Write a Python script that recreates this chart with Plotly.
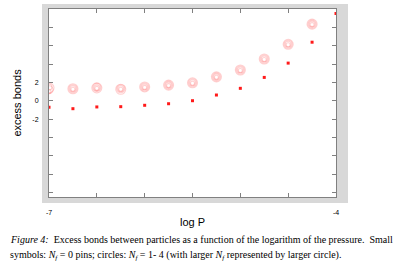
import plotly.graph_objects as go

log_p = [-7, -6.75, -6.5, -6.25, -6, -5.75, -5.5, -5.25, -5, -4.75, -4.5, -4.25, -4]
nf0 = [-0.72, -0.87, -0.68, -0.65, -0.5, -0.33, 0.0, 0.62, 1.35, 2.54, 4.1, 6.38, 9.5]
nf1 = [1.0, 1.25, 1.35, 1.25, 1.45, 1.65, 1.9, 2.55, 3.3, 4.5, 6.1, 8.3, 11.6]
nf2 = [1.5, 1.3, 1.4, 1.3, 1.5, 1.7, 1.95, 2.6, 3.35, 4.55, 6.15, 8.35, 11.7]
nf3 = [1.2, 1.3, 1.45, 1.3, 1.5, 1.7, 1.95, 2.6, 3.35, 4.55, 6.15, 8.35, 11.7]
nf4 = [1.4, 1.3, 1.4, 1.25, 1.5, 1.7, 1.95, 2.6, 3.35, 4.55, 6.15, 8.35, 11.8]
circle_sizes = [4, 6, 8, 10]

x_ticks = [-7, -4]
x_labels = ["-7", "-4"]
y_ticks = [-2, 0, 2]
y_labels = ["-2", "0", "2"]

fig = go.Figure()
for vals, sz in zip([nf1, nf2, nf3, nf4], circle_sizes):
    fig.add_trace(go.Scatter(
        x=log_p, y=vals, mode="markers",
        marker=dict(symbol="circle-open", size=sz, color="rgba(255,60,60,0.24)",
                    line=dict(width=1.1, color="rgba(255,60,60,0.24)")),
        showlegend=False))
fig.add_trace(go.Scatter(
    x=log_p, y=nf0, mode="markers",
    marker=dict(symbol="square", size=3, color="#ff1a1a", line=dict(width=0)),
    showlegend=False))

W, H = 407, 266
L, R, T, B = 49, 71, 9, 69
pw, ph = W - L - R, H - T - B

def px_x(x):
    return (x - L) / pw

def px_y(y):
    return (H - B - y) / ph

fig.add_shape(type="rect", xref="paper", yref="paper",
              x0=px_x(42), x1=px_x(348), y0=px_y(203), y1=px_y(4),
              fillcolor="#d8d8d8", line=dict(width=0), layer="below")
fig.add_shape(type="rect", xref="paper", yref="paper",
              x0=0, x1=1, y0=0, y1=1,
              fillcolor="white", line=dict(width=0), layer="below")

tick_col = "#808080"
fig.update_xaxes(range=[-7, -4], tickvals=x_ticks, ticktext=x_labels,
                 ticks="inside", ticklen=4, tickcolor=tick_col, mirror="ticks",
                 minor=dict(ticks="inside", ticklen=4, tickcolor=tick_col, tick0=-7, dtick=0.5,
                            showgrid=False),
                 showline=True, linecolor=tick_col, linewidth=1, showgrid=False,
                 zeroline=False, tickfont=dict(family="Liberation Sans", size=7, color="black"),
                 ticklabelstandoff=9,
                 title=dict(text="log P", font=dict(family="Liberation Sans", size=11, color="black"),
                            standoff=2))
fig.update_yaxes(range=[-10.5, 10], tickvals=y_ticks, ticktext=y_labels,
                 ticks="inside", ticklen=4, tickcolor=tick_col, mirror="ticks",
                 minor=dict(ticks="inside", ticklen=4, tickcolor=tick_col, tick0=0, dtick=2,
                            showgrid=False),
                 showline=True, linecolor=tick_col, linewidth=1, showgrid=False,
                 zeroline=False, tickfont=dict(family="Liberation Sans", size=7, color="black"),
                 ticklabelstandoff=8,
                 title=dict(text="excess bonds", font=dict(family="Liberation Sans", size=11, color="black"),
                            standoff=8))

cap_font = dict(family="Liberation Serif", size=10, color="black")
fig.add_annotation(xref="paper", yref="paper", x=px_x(8), y=px_y(239),
                   xanchor="left", yanchor="middle", showarrow=False, font=cap_font,
                   text="<i>Figure 4:</i>  Excess bonds between particles as a function of the logarithm of the pressure.  Small")
fig.add_annotation(xref="paper", yref="paper", x=px_x(8), y=px_y(255),
                   xanchor="left", yanchor="middle", showarrow=False, font=cap_font,
                   text="symbols: <i>N<sub>f</sub></i> = 0 pins; circles: <i>N<sub>f</sub></i> = 1- 4 (with larger <i>N<sub>f</sub></i> represented by larger circle).")

fig.update_layout(width=W, height=H, margin=dict(l=L, r=R, t=T, b=B),
                  paper_bgcolor="white", plot_bgcolor="white")
fig.write_html("out.html", config={"displayModeBar": False},
               post_script="document.body.style.margin='0';")
